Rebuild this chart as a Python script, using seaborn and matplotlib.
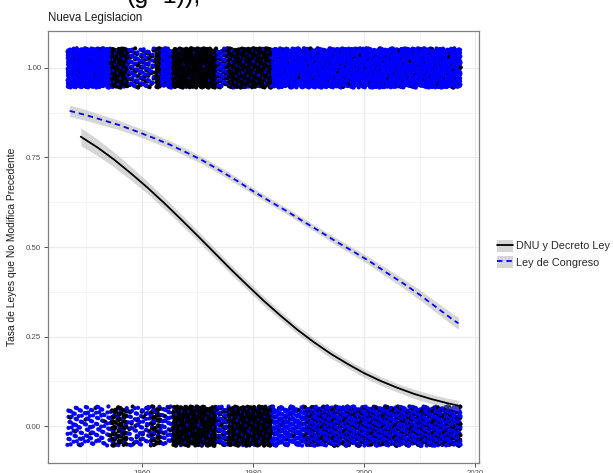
import numpy as np
import pandas as pd
import matplotlib
matplotlib.use("Agg")
import matplotlib.pyplot as plt
from matplotlib.lines import Line2D
from matplotlib.patches import Patch
import seaborn as sns

# ── data ─────────────────────────────────────────────────────────────────────
# jittered laws: year blocks and how many laws per year fall in each band
seg_start = [1947, 1955, 1958, 1962, 1963, 1964, 1966, 1974, 1976, 1984, 1990]
seg_end   = [1954, 1957, 1961, 1962, 1963, 1965, 1973, 1975, 1983, 1989, 2017]
blue_top  = [75, 8, 22, 12, 5, 65, 4, 38, 8, 65, 65]   # Ley de Congreso, no modifica = 1
black_top = [1, 65, 12, 10, 70, 5, 70, 18, 65, 2, 4]   # DNU y Decreto Ley, = 1
blue_bot  = [15, 5, 15, 12, 4, 18, 4, 30, 6, 38, 50]   # Ley de Congreso, = 0
black_bot = [1, 32, 4, 25, 32, 2, 58, 15, 58, 5, 24]   # DNU y Decreto Ley, = 0

# fitted logistic curves (value and half width of the grey band)
black_years = [1949, 1952, 1955, 1958, 1961, 1964, 1967, 1970, 1973, 1976, 1979, 1982,
               1985, 1988, 1991, 1994, 1997, 2000, 2003, 2006, 2009, 2012, 2015, 2017]
black_fit   = [.808, .778, .744, .706, .666, .623, .578, .532, .485, .438, .393, .349,
               .308, .269, .234, .202, .174, .148, .126, .107, .090, .076, .064, .057]
black_se    = [.025, .023, .021, .019, .017, .016, .015, .014, .014, .013, .013, .013,
               .012, .012, .012, .012, .012, .012, .012, .012, .013, .013, .014, .015]

blue_years = [1947, 1950, 1953, 1956, 1959, 1962, 1965, 1968, 1971, 1974, 1977, 1980,
              1983, 1986, 1989, 1992, 1995, 1998, 2001, 2004, 2007, 2010, 2013, 2016, 2017]
blue_fit   = [.880, .868, .854, .840, .823, .805, .786, .764, .741, .714, .686, .656,
              .628, .601, .572, .544, .515, .488, .460, .429, .399, .367, .332, .297, .287]
blue_se    = [.016, .015, .014, .013, .012, .012, .011, .011, .010, .010, .010, .009,
              .009, .009, .009, .009, .010, .010, .011, .012, .013, .014, .015, .016, .017]

tipo_dnu = "DNU y Decreto Ley"
tipo_ley = "Ley de Congreso"
colores = {tipo_dnu: "#000000", tipo_ley: "#0000FF"}


# ── expand blocks into jittered points (deterministic jitter) ────────────────
def jitter_points(year, n, outcome, tipo, offset):
    idx = np.arange(n) + offset
    fx = (0.5 + idx * 0.7548776662) % 1.0
    fy = (0.5 + idx * 0.5698402910) % 1.0
    return pd.DataFrame({
        "anio": year + (fx - 0.5) * 0.8,
        "valor": outcome + (fy - 0.5) * 0.11,
        "tipo": tipo,
    })

partes = []
for s, e, bt, kt, bb, kb in zip(seg_start, seg_end, blue_top, black_top, blue_bot, black_bot):
    for yr in range(s, e + 1):
        partes.append(jitter_points(yr, bt, 1, tipo_ley, yr * 131))
        partes.append(jitter_points(yr, kt, 1, tipo_dnu, yr * 131 + 70000))
        partes.append(jitter_points(yr, bb, 0, tipo_ley, yr * 131 + 140000))
        partes.append(jitter_points(yr, kb, 0, tipo_dnu, yr * 131 + 210000))
puntos = pd.concat(partes, ignore_index=True).sort_values("anio")

curvas = pd.concat([
    pd.DataFrame({"anio": black_years, "fit": black_fit, "se": black_se, "tipo": tipo_dnu}),
    pd.DataFrame({"anio": blue_years, "fit": blue_fit, "se": blue_se, "tipo": tipo_ley}),
], ignore_index=True)


# ── plot ──────────────────────────────────────────────────────────────────────
sns.set_style("white")
plt.rcParams["font.family"] = ["Liberation Sans", "DejaVu Sans"]

fig = plt.figure(figsize=(6.13, 4.73), dpi=100)
ax = fig.add_axes([48 / 613, 10 / 473, 431 / 613, 432 / 473])

sns.scatterplot(data=puntos, x="anio", y="valor", hue="tipo", palette=colores,
                s=9, linewidth=0, alpha=1, legend=False, ax=ax, zorder=2)

for tipo in [tipo_dnu, tipo_ley]:
    c = curvas[curvas["tipo"] == tipo]
    ax.fill_between(c["anio"], c["fit"] - c["se"], c["fit"] + c["se"],
                    color="#999999", alpha=0.4, linewidth=0, zorder=3)

sns.lineplot(data=curvas, x="anio", y="fit", hue="tipo", style="tipo",
             palette=colores, dashes={tipo_dnu: "", tipo_ley: (3, 2.2)},
             linewidth=1.3, legend=False, ax=ax, zorder=4)

ax.set_xlim(1943.1, 2020.7)
ax.set_ylim(-0.103, 1.103)
ax.set_xticks([1960, 1980, 2000, 2020])
ax.set_xticks([1950, 1970, 1990, 2010], minor=True)
ax.set_yticks([0, 0.25, 0.5, 0.75, 1.0])
ax.set_yticks([0.125, 0.375, 0.625, 0.875], minor=True)
ax.set_yticklabels(["0.00", "0.25", "0.50", "0.75", "1.00"])
ax.grid(which="major", color="#EBEBEB", linewidth=0.9, zorder=0)
ax.grid(which="minor", color="#F2F2F2", linewidth=0.6, zorder=0)
ax.set_axisbelow(True)
ax.tick_params(axis="both", which="major", length=3, width=0.6, color="#333333",
               labelsize=5.7, labelcolor="#4D4D4D", pad=2, bottom=True, left=True)
ax.tick_params(which="minor", length=0)
for sp in ax.spines.values():
    sp.set_color("#7F7F7F")
    sp.set_linewidth(0.9)

ax.set_xlabel("")
ax.set_ylabel("Tasa de Leyes que No Modifica Precedente", fontsize=7.4, color="#1A1A1A", labelpad=6)

fig.text(48 / 613, 1 - 18 / 473, "Nueva Legislacion", fontsize=8.3, color="#1A1A1A",
         ha="left", va="center")
fig.text(127 / 613, 1 - 3 / 473, "(g=1)),", fontsize=18, color="#000000",
         ha="left", va="baseline")

handles = [
    (Patch(facecolor="#D6D6D6", edgecolor="none"), Line2D([], [], color="black", lw=1.3)),
    (Patch(facecolor="#D6D6D6", edgecolor="none"), Line2D([], [], color="#0000FF", lw=1.3, ls=(0, (3, 2.2)))),
]
ax.legend(handles, [tipo_dnu, tipo_ley], loc="center left",
          bbox_to_anchor=(497 / 613, 1 - 254 / 473), bbox_transform=fig.transFigure,
          frameon=False, fontsize=7.8, borderpad=0, handlelength=1.5, handleheight=1.4,
          handletextpad=0.25, labelspacing=0.35, borderaxespad=0)

fig.savefig("out.png", dpi=100)
